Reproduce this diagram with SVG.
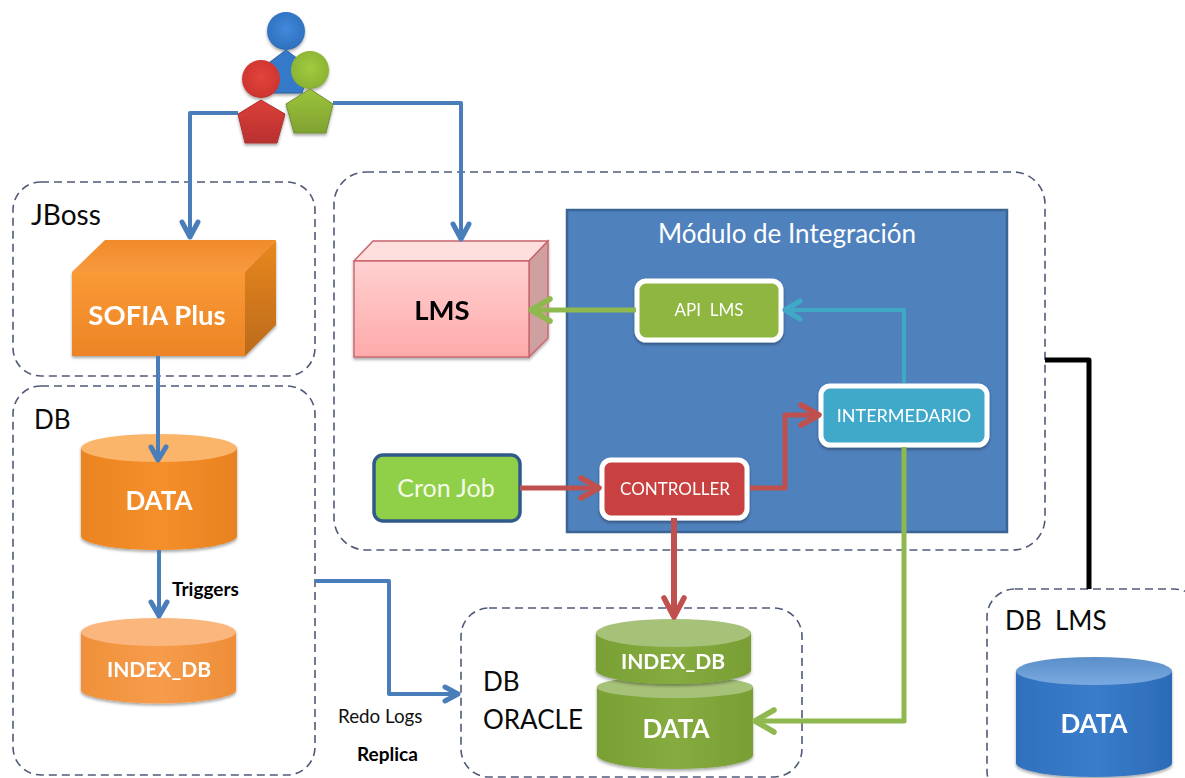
<svg xmlns="http://www.w3.org/2000/svg" width="1185" height="778" viewBox="0 0 1185 778">
<style>
text{font-family:"Lato","Open Sans","Liberation Sans",sans-serif}
.zone{fill:none;stroke:#505a78;stroke-width:1.6;stroke-dasharray:8 5}
.lbl{font-size:26px;fill:#0a0a0a}
.w{fill:#fff;text-anchor:middle}
.b{font-weight:700}
.c{fill:none;stroke-linejoin:round;stroke-linecap:butt}
.head{fill:none;stroke-linejoin:round;stroke-linecap:round}
.blue{stroke:#4a7ebb;stroke-width:4}
.blue.head{stroke-width:5}
.red{stroke:#c0504d;stroke-width:5}
.red.head{stroke-width:5.5}
.grn{stroke:#8fb84e;stroke-width:5}
.grn.head{stroke-width:5.5}
.teal{stroke:#3fa9c6;stroke-width:4}
.teal.head{stroke-width:5}
.card{stroke:#fff;stroke-width:5}
</style>
<defs>
<filter id="sh" x="-10%" y="-10%" width="120%" height="125%"><feDropShadow dx="0" dy="2" stdDeviation="1.6" flood-color="#000" flood-opacity=".35"/></filter>
<linearGradient id="org" x1="0" y1="0" x2="0" y2="1"><stop offset="0" stop-color="#f99a36"/><stop offset="1" stop-color="#ec8425"/></linearGradient>
<linearGradient id="orgT" x1="0" y1="0" x2="0" y2="1"><stop offset="0" stop-color="#f08a2a"/><stop offset="1" stop-color="#f89a3e"/></linearGradient>
<linearGradient id="orgR" x1="0" y1="0" x2="0" y2="1"><stop offset="0" stop-color="#e9871f"/><stop offset="1" stop-color="#bb6a1c"/></linearGradient>
<linearGradient id="orgS" x1="0" y1="0" x2="1" y2="0"><stop offset="0" stop-color="#ea8420"/><stop offset=".5" stop-color="#f58f2c"/><stop offset="1" stop-color="#e88220"/></linearGradient>
<linearGradient id="orgL" x1="0" y1="0" x2="1" y2="0"><stop offset="0" stop-color="#f0903a"/><stop offset=".5" stop-color="#f69c4c"/><stop offset="1" stop-color="#ee8e38"/></linearGradient>
<linearGradient id="grnS" x1="0" y1="0" x2="1" y2="0"><stop offset="0" stop-color="#79a034"/><stop offset=".5" stop-color="#86ac40"/><stop offset="1" stop-color="#789e34"/></linearGradient>
<linearGradient id="bluS" x1="0" y1="0" x2="1" y2="0"><stop offset="0" stop-color="#2f70bd"/><stop offset=".5" stop-color="#3a7dcb"/><stop offset="1" stop-color="#2c6bb6"/></linearGradient>
<linearGradient id="pnk" x1="0" y1="0" x2="0" y2="1"><stop offset="0" stop-color="#ffd0d0"/><stop offset="1" stop-color="#ffaaaa"/></linearGradient>
<linearGradient id="pr" x1="0" y1="0" x2="0" y2="1"><stop offset="0" stop-color="#dc3f38"/><stop offset="1" stop-color="#b8302f"/></linearGradient>
<linearGradient id="pg" x1="0" y1="0" x2="0" y2="1"><stop offset="0" stop-color="#9cc43a"/><stop offset="1" stop-color="#80a232"/></linearGradient>
<linearGradient id="cT" x1="0" y1="0" x2="0" y2="1"><stop offset="0" stop-color="#5b8fc9"/><stop offset="1" stop-color="#79a9e0"/></linearGradient>
<radialGradient id="hb" cx=".5" cy=".45" r=".6"><stop offset="0" stop-color="#4189dc"/><stop offset=".85" stop-color="#2f72c0"/><stop offset="1" stop-color="#234f85"/></radialGradient>
<radialGradient id="hr" cx=".5" cy=".45" r=".6"><stop offset="0" stop-color="#e2443c"/><stop offset=".85" stop-color="#cf3530"/><stop offset="1" stop-color="#8c2b28"/></radialGradient>
<radialGradient id="hg" cx=".5" cy=".45" r=".6"><stop offset="0" stop-color="#a2cb3e"/><stop offset=".85" stop-color="#8cb434"/><stop offset="1" stop-color="#667f33"/></radialGradient>
</defs>

<g id="zone-jboss"><rect class="zone" x="13" y="182" width="302" height="194" rx="28"/><text class="lbl" x="31" y="225" style="font-size:28px">JBoss</text></g>
<g id="zone-db"><rect class="zone" x="13" y="386" width="302" height="389" rx="28"/><text class="lbl" x="34" y="429">DB</text></g>
<g id="zone-lms"><rect class="zone" x="334" y="172" width="711" height="378" rx="32"/></g>
<g id="zone-oracle"><rect class="zone" x="461" y="608" width="341" height="169" rx="28"/><text class="lbl" x="483" y="691">DB</text><text class="lbl" x="483" y="729">ORACLE</text></g>
<g id="zone-dblms"><rect class="zone" x="987" y="589" width="215" height="210" rx="28"/><text class="lbl" x="1005" y="630" xml:space="preserve">DB  LMS</text></g>

<g id="modulo"><rect x="567" y="210" width="440" height="322" fill="#4f81bd" stroke="#3a6595" stroke-width="2.5"/><text class="w" x="787" y="243" font-size="26">Módulo de Integración</text></g>

<g id="users" filter="url(#sh)">
<polygon points="286,50 310,68 302,93 270,93 262,68" fill="#3579c9" stroke="#2d5f9c"/>
<circle cx="286" cy="31" r="19" fill="url(#hb)"/>
<polygon points="261,100 285,114 277,143 245,143 238,114" fill="url(#pr)" stroke="#a93430"/>
<circle cx="261" cy="79" r="19" fill="url(#hr)"/>
<polygon points="310,89 333,104 326,133 294,133 286,104" fill="url(#pg)" stroke="#708f32"/>
<circle cx="310" cy="70" r="19" fill="url(#hg)"/>
</g>

<g id="sofia" filter="url(#sh)">
<polygon points="72,272 105,240 276,240 245,272" fill="url(#orgT)"/>
<polygon points="245,272 276,240 276,325 245,356" fill="url(#orgR)"/>
<rect x="72" y="272" width="173" height="84" fill="url(#org)"/>
<text class="w b" x="157" y="325" font-size="27.500">SOFIA Plus</text>
</g>

<g id="lms" filter="url(#sh)">
<polygon points="354,261 373,241 548,241 529,261" fill="#ffdede" stroke="#c8646c" stroke-width="1.400"/>
<polygon points="529,261 548,241 548,338 529,357" fill="#cfa0a0" stroke="#c8646c" stroke-width="1.400"/>
<rect x="354" y="261" width="175" height="96" fill="url(#pnk)" stroke="#c8646c" stroke-width="1.400"/>
<text class="b" x="442" y="320" font-size="27.500" text-anchor="middle" fill="#000">LMS</text>
</g>

<g id="api-lms" filter="url(#sh)"><rect class="card" x="637" y="281" width="144" height="59" rx="9" fill="#8fb640"/><text class="w" x="709" y="316" font-size="17" xml:space="preserve">API  LMS</text></g>
<g id="intermediario" filter="url(#sh)"><rect class="card" x="821" y="386" width="166" height="59" rx="9" fill="#3fa9c9"/><text class="w" x="904" y="422" font-size="18">INTERMEDARIO</text></g>
<g id="controller" filter="url(#sh)"><rect class="card" x="602" y="460" width="145" height="58" rx="9" fill="#c9413f"/><text class="w" x="675" y="495" font-size="17">CONTROLLER</text></g>
<g id="cron"><rect x="374" y="455" width="146" height="66" rx="9" fill="#90cf48" stroke="#2f5a8a" stroke-width="3.500"/><text class="w" x="446" y="497" font-size="25" style="fill:#f4fbe8">Cron Job</text></g>

<g id="db-data" filter="url(#sh)"><path d="M81,448V536A78,14 0 0 0 237,536V448Z" fill="url(#orgS)"/><ellipse cx="159" cy="448" rx="78" ry="14" fill="#fbb56b"/><text class="w b" x="159" y="510" font-size="26">DATA</text></g>
<g id="db-index" filter="url(#sh)"><path d="M81,632V691A78,14 0 0 0 236,691V632Z" fill="url(#orgL)"/><ellipse cx="158.500" cy="632" rx="77.500" ry="14" fill="#fab67c"/><text class="w b" x="159" y="677" font-size="21">INDEX_DB</text></g>
<g id="oracle-data" filter="url(#sh)"><path d="M597,687V755A78,14 0 0 0 753,755V687Z" fill="url(#grnS)"/><ellipse cx="675" cy="687" rx="78" ry="11" fill="#a6c178"/><text class="w b" x="676" y="738" font-size="26">DATA</text></g>
<g id="oracle-index" filter="url(#sh)"><path d="M596,633V670A77.500,14 0 0 0 751,670V633Z" fill="url(#grnS)"/><ellipse cx="673.500" cy="633" rx="77.500" ry="14" fill="#a6c178"/><text class="w b" x="673" y="669" font-size="21">INDEX_DB</text></g>
<g id="dblms-data" filter="url(#sh)"><path d="M1016,671V763A78,14 0 0 0 1172,763V671Z" fill="url(#bluS)"/><ellipse cx="1094" cy="671" rx="78" ry="14" fill="url(#cT)"/><text class="w b" x="1094" y="733" font-size="26">DATA</text></g>

<g id="connectors">
<path class="c blue" d="M238,113H190V237"/><path class="head blue" d="M182,222L190,237L198,222"/>
<path class="c blue" d="M333,103H461V239"/><path class="head blue" d="M453,224L461,239L469,224"/>
<path class="c blue" d="M158,356V460"/><path class="head blue" d="M151,447L158,460L166,447"/>
<path class="c blue" d="M159,550V616"/><path class="head blue" d="M151,602L159,616L167,602"/>
<path class="c blue" d="M315,581H389V694H456"/><path class="head blue" d="M445,687L458,694L445,701"/>
<path class="c grn" d="M636,310H532"/><path class="head grn" d="M550,299L531,310L550,321"/>
<path class="c teal" d="M904,383V310H786"/><path class="head teal" d="M800,301L785,310L800,319"/>
<path class="c red" d="M520,488H597"/><path class="head red" d="M581,478L599,488L581,498"/>
<path class="c red" d="M750,488H785V415H817"/><path class="head red" d="M801,405L819,415L801,425"/>
<path class="c red" style="stroke-width:6" d="M674,518V615"/><path class="head red" d="M664,598L674,617L684,598"/>
<path class="c grn" d="M904,447V721H757"/><path class="head grn" d="M774,710L755,721L774,732"/>
<path class="c" stroke="#000" stroke-width="5" d="M1045,360H1089V589"/>
</g>

<g id="labels">
<text class="b" x="172" y="596" font-size="19" fill="#000">Triggers</text>
<text x="338" y="723" font-size="18.800" fill="#111">Redo Logs</text>
<text class="b" x="357" y="761" font-size="19" fill="#000">Replica</text>
</g>
</svg>
